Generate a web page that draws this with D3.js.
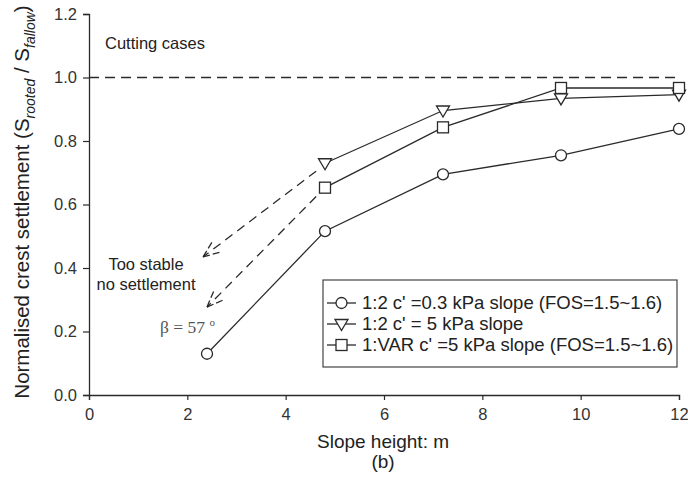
<!DOCTYPE html>
<html>
<head>
<meta charset="utf-8">
<script src="https://cdn.jsdelivr.net/npm/d3@7"></script>
<style>
  body { margin: 0; background: #fff; }
  svg { font-family: "Liberation Sans", Arial, sans-serif; }
</style>
</head>
<body>
<div id="chart"></div>
<script>
// slope heights (m) and normalised settlement for each case
var heightsA = [2.4, 4.8, 7.2, 9.6, 12];
var valuesA = [0.13, 0.516, 0.695, 0.755, 0.838];
var heightsB = [4.8, 7.2, 9.6, 12];
var valuesB = [0.73, 0.896, 0.934, 0.946];
var heightsC = [4.8, 7.2, 9.6, 12];
var valuesC = [0.653, 0.843, 0.967, 0.967];

var seriesNames = ["1:2 c' =0.3 kPa slope (FOS=1.5~1.6)", "1:2 c' = 5 kPa slope", "1:VAR c' =5 kPa slope (FOS=1.5~1.6)"];
var xTicks = [0, 2, 4, 6, 8, 10, 12];
var yTicks = [0, 0.2, 0.4, 0.6, 0.8, 1.0, 1.2];

// dashed arrows "too stable": [x0, y0, x1, y1] in data units
var arrows = [[4.62, 0.705, 2.32, 0.435], [4.62, 0.625, 2.4, 0.277]];

var W = 688, H = 490;
var svg = d3.select("#chart").append("svg").attr("width", W).attr("height", H);

var x = d3.scaleLinear().domain([0, 12]).range([89, 679]);
var y = d3.scaleLinear().domain([0, 1.2]).range([395, 14]);
var ink = "#2a2a2a";

// axes
var xAxis = svg.append("g").attr("transform", "translate(0," + y(0) + ")")
    .call(d3.axisBottom(x).tickValues(xTicks).tickSize(5).tickPadding(8).tickFormat(d3.format("d")));
var yAxis = svg.append("g").attr("transform", "translate(" + x(0) + ",0)")
    .call(d3.axisLeft(y).tickValues(yTicks).tickSize(6).tickPadding(6).tickFormat(d3.format(".1f")));
[xAxis, yAxis].forEach(function(g) {
    g.select(".domain").attr("stroke", ink).attr("stroke-width", 1.3);
    g.selectAll(".tick line").attr("stroke", ink).attr("stroke-width", 1.2);
    g.selectAll(".tick text").attr("fill", "#333").style("font-size", "16.5px").style("font-family", "Liberation Sans, Arial, sans-serif");
});

// reference line at 1.0
svg.append("line")
    .attr("x1", x(0)).attr("x2", x(12)).attr("y1", y(1)).attr("y2", y(1))
    .attr("stroke", ink).attr("stroke-width", 1.3).attr("stroke-dasharray", "10,6");

// axis titles
svg.append("text").attr("x", 383).attr("y", 448).attr("text-anchor", "middle")
    .attr("fill", "#222").style("font-size", "19px").text("Slope height: m");
svg.append("text").attr("x", 383).attr("y", 468).attr("text-anchor", "middle")
    .attr("fill", "#222").style("font-size", "19px").text("(b)");

var yt = svg.append("text").attr("transform", "translate(29,202) rotate(-90)")
    .attr("text-anchor", "middle").attr("fill", "#222").style("font-size", "20.5px");
yt.append("tspan").text("Normalised crest settlement (S");
yt.append("tspan").attr("dy", 6).style("font-size", "14px").style("font-style", "italic").text("rooted");
yt.append("tspan").attr("dy", -6).text(" / S");
yt.append("tspan").attr("dy", 6).style("font-size", "14px").style("font-style", "italic").text("fallow");
yt.append("tspan").attr("dy", -6).text(")");

// annotations
svg.append("text").attr("x", 105).attr("y", 49).attr("fill", "#222").style("font-size", "16.5px").text("Cutting cases");
svg.append("text").attr("x", 146).attr("y", 270).attr("text-anchor", "middle").attr("fill", "#222").style("font-size", "16.5px").text("Too stable");
svg.append("text").attr("x", 146).attr("y", 290).attr("text-anchor", "middle").attr("fill", "#222").style("font-size", "16.5px").text("no settlement");
var beta = svg.append("text").attr("x", 160).attr("y", 333).attr("fill", "#555")
    .style("font-family", "Liberation Serif, Times New Roman, serif").style("font-size", "17.5px");
beta.append("tspan").text("\u03b2 = 57 ");
beta.append("tspan").attr("dy", -7).style("font-size", "11px").text("o");

arrows.forEach(function(a) {
    var x0 = x(a[0]), y0 = y(a[1]), x1 = x(a[2]), y1 = y(a[3]);
    svg.append("line").attr("x1", x0).attr("y1", y0).attr("x2", x1).attr("y2", y1)
        .attr("stroke", ink).attr("stroke-width", 1.3).attr("stroke-dasharray", "9,6");
    var ang = Math.atan2(y0 - y1, x0 - x1);
    [-0.38, 0.38].forEach(function(da) {
        svg.append("line").attr("x1", x1).attr("y1", y1)
            .attr("x2", x1 + 17 * Math.cos(ang + da)).attr("y2", y1 + 17 * Math.sin(ang + da))
            .attr("stroke", ink).attr("stroke-width", 1.3).attr("stroke-dasharray", "7,3");
    });
});

// markers
function drawMarker(g, type, cx, cy) {
    if (type === "circle") {
        g.append("circle").attr("cx", cx).attr("cy", cy).attr("r", 5.5)
            .attr("fill", "#fff").attr("stroke", ink).attr("stroke-width", 1.3);
    } else if (type === "triangle") {
        g.append("path").attr("d", "M" + (cx - 6.5) + "," + (cy - 4.5) + "L" + (cx + 6.5) + "," + (cy - 4.5) + "L" + cx + "," + (cy + 6.5) + "Z")
            .attr("fill", "#fff").attr("stroke", ink).attr("stroke-width", 1.3);
    } else {
        g.append("rect").attr("x", cx - 5.5).attr("y", cy - 5.5).attr("width", 11).attr("height", 11)
            .attr("fill", "#fff").attr("stroke", ink).attr("stroke-width", 1.3);
    }
}

var series = [
    { xs: heightsA, ys: valuesA, type: "circle" },
    { xs: heightsB, ys: valuesB, type: "triangle" },
    { xs: heightsC, ys: valuesC, type: "square" }
];
var line = d3.line().x(function(d) { return x(d[0]); }).y(function(d) { return y(d[1]); });

series.forEach(function(s) {
    var pts = d3.zip(s.xs, s.ys);
    svg.append("path").datum(pts).attr("d", line)
        .attr("fill", "none").attr("stroke", ink).attr("stroke-width", 1.3);
});
series.forEach(function(s) {
    var g = svg.append("g");
    d3.zip(s.xs, s.ys).forEach(function(p) { drawMarker(g, s.type, x(p[0]), y(p[1])); });
});

// legend
var lg = svg.append("g");
lg.append("rect").attr("x", 323).attr("y", 280).attr("width", 354).attr("height", 87)
    .attr("fill", "#fff").attr("stroke", "#444").attr("stroke-width", 1.2);
series.forEach(function(s, i) {
    var cy = 303 + i * 21;
    lg.append("line").attr("x1", 327).attr("x2", 356).attr("y1", cy).attr("y2", cy)
        .attr("stroke", ink).attr("stroke-width", 1.3);
    drawMarker(lg, s.type, 341.5, cy);
    lg.append("text").attr("x", 362).attr("y", cy + 6).attr("fill", "#222")
        .style("font-size", "18.5px").text(seriesNames[i]);
});
</script>
</body>
</html>
